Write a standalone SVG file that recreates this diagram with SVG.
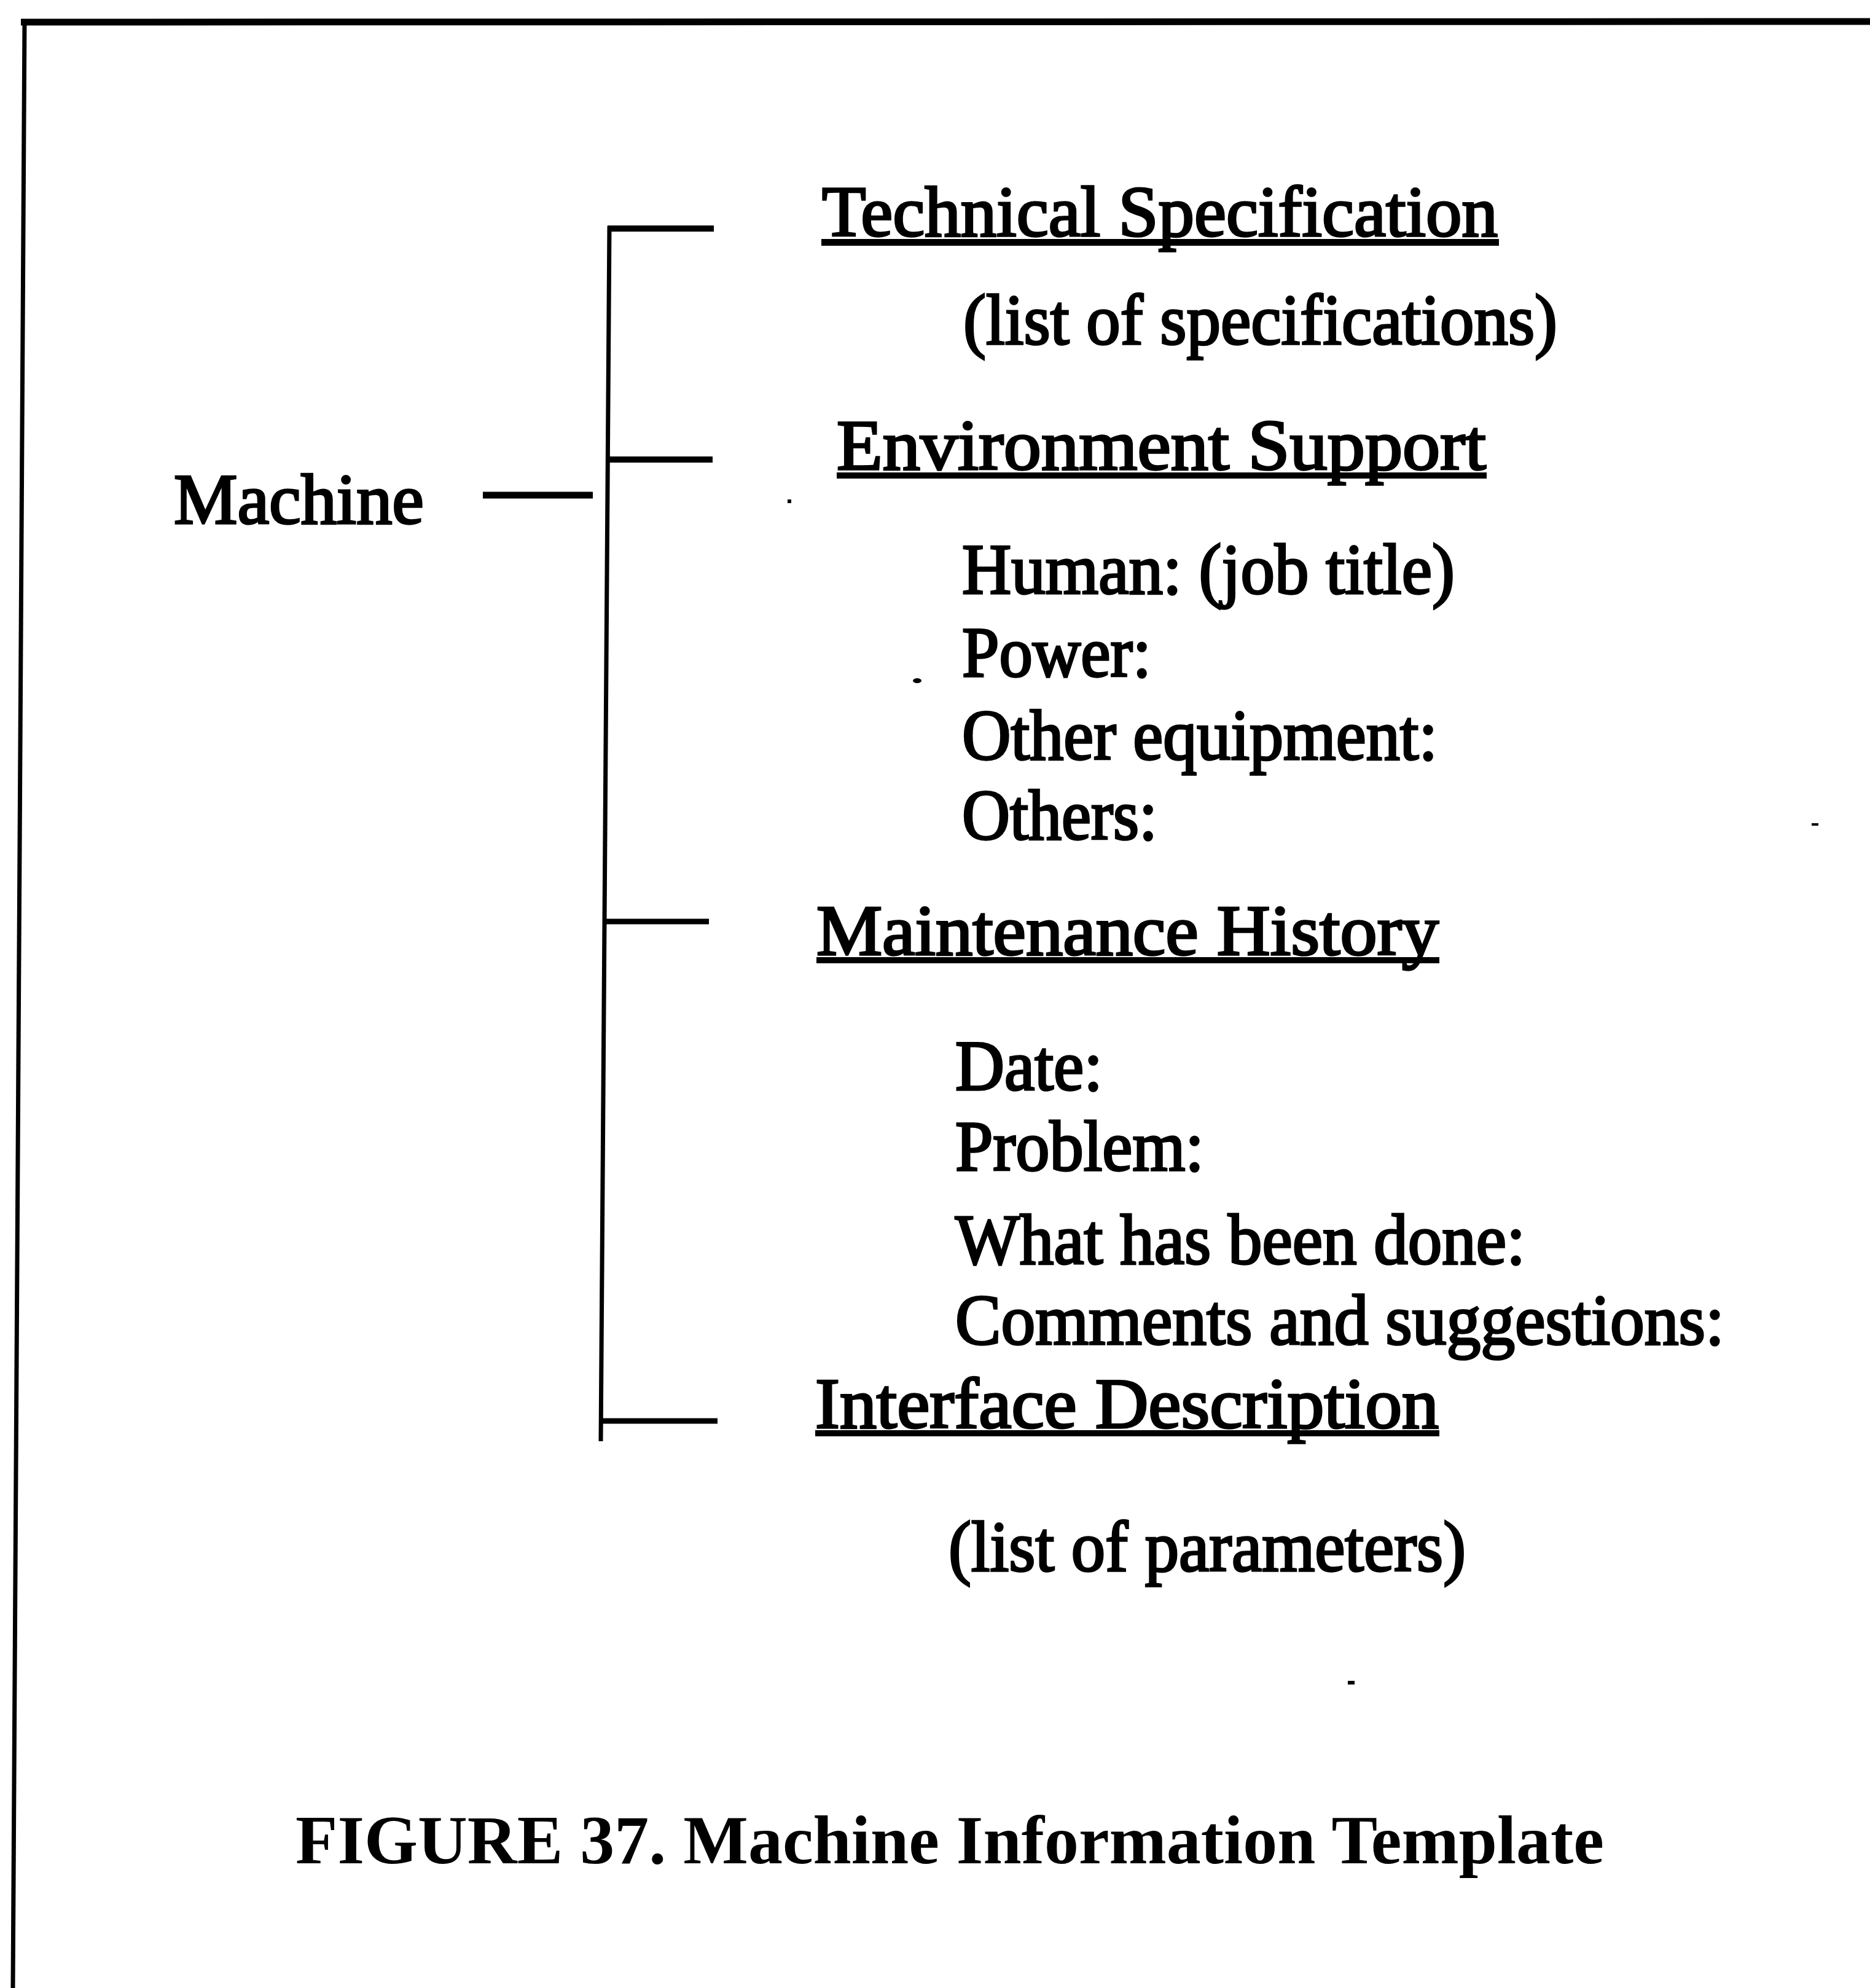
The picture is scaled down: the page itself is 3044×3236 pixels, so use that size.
<svg xmlns="http://www.w3.org/2000/svg" width="3044" height="3236" viewBox="0 0 3044 3236">
<style>
  .t { font-family: "Liberation Serif", "Times New Roman", serif; font-size: 116px; fill: #000; stroke: #000; stroke-width: 3.5px; }
  .cap { font-family: "Liberation Serif", "Times New Roman", serif; font-size: 112px; font-weight: bold; fill: #000; }
  .ln { stroke: #000; stroke-linecap: butt; fill: none; }
  .ul { fill: #000; }
  .speck { fill: #000; }
</style>
<rect x="0" y="0" width="3044" height="3236" fill="#fff"/>
<g id="frame">
  <line class="ln" x1="34" y1="36" x2="3044" y2="35" stroke-width="11"/>
  <line class="ln" x1="40" y1="31" x2="21" y2="3236" stroke-width="7"/>
</g>
<g id="connectors">
  <line class="ln" x1="992" y1="368" x2="978" y2="2346" stroke-width="7"/>
  <line class="ln" x1="989" y1="372" x2="1162" y2="372" stroke-width="10"/>
  <line class="ln" x1="990" y1="748" x2="1160" y2="748" stroke-width="10"/>
  <line class="ln" x1="786" y1="806" x2="965" y2="806" stroke-width="11"/>
  <line class="ln" x1="982" y1="1500" x2="1154" y2="1500" stroke-width="9"/>
  <line class="ln" x1="979" y1="2313" x2="1168" y2="2313" stroke-width="9"/>
</g>
<g id="node-machine">
  <text class="t" x="283" y="852" textLength="407" lengthAdjust="spacingAndGlyphs">Machine</text>
</g>
<g id="node-technical-specification">
  <text class="t" x="1338" y="384" textLength="1100" lengthAdjust="spacingAndGlyphs">Technical Specification</text>
  <rect class="ul" x="1337" y="389" width="1103" height="11"/>
  <text class="t" x="1568" y="560" textLength="967" lengthAdjust="spacingAndGlyphs">(list of specifications)</text>
</g>
<g id="node-environment-support">
  <text class="t" x="1362" y="764" textLength="1057" lengthAdjust="spacingAndGlyphs">Environment Support</text>
  <rect class="ul" x="1362" y="769" width="1058" height="10"/>
  <text class="t" x="1566" y="966" textLength="802" lengthAdjust="spacingAndGlyphs">Human: (job title)</text>
  <text class="t" x="1566" y="1101" textLength="308" lengthAdjust="spacingAndGlyphs">Power:</text>
  <text class="t" x="1566" y="1236" textLength="774" lengthAdjust="spacingAndGlyphs">Other equipment:</text>
  <text class="t" x="1566" y="1366" textLength="318" lengthAdjust="spacingAndGlyphs">Others:</text>
</g>
<g id="node-maintenance-history">
  <text class="t" x="1329" y="1554" textLength="1013" lengthAdjust="spacingAndGlyphs">Maintenance History</text>
  <rect class="ul" x="1329" y="1558" width="1014" height="10"/>
  <text class="t" x="1555" y="1774" textLength="240" lengthAdjust="spacingAndGlyphs">Date:</text>
  <text class="t" x="1555" y="1905" textLength="405" lengthAdjust="spacingAndGlyphs">Problem:</text>
  <text class="t" x="1555" y="2057" textLength="928" lengthAdjust="spacingAndGlyphs">What has been done:</text>
  <text class="t" x="1555" y="2188" textLength="1252" lengthAdjust="spacingAndGlyphs">Comments and suggestions:</text>
</g>
<g id="node-interface-description">
  <text class="t" x="1327" y="2324" textLength="1015" lengthAdjust="spacingAndGlyphs">Interface Description</text>
  <rect class="ul" x="1327" y="2328" width="1016" height="10"/>
  <text class="t" x="1544" y="2557" textLength="842" lengthAdjust="spacingAndGlyphs">(list of parameters)</text>
</g>
<g id="caption">
  <text class="cap" x="481" y="3033" textLength="2130" lengthAdjust="spacingAndGlyphs">FIGURE 37. Machine Information Template</text>
</g>
<g id="specks">
  <rect class="speck" x="1282" y="813" width="6" height="6"/>
  <ellipse class="speck" cx="1493" cy="1108" rx="7" ry="4"/>
  <rect class="speck" x="2949" y="1340" width="11" height="4"/>
  <rect class="speck" x="2194" y="2736" width="11" height="6"/>
</g>
</svg>
